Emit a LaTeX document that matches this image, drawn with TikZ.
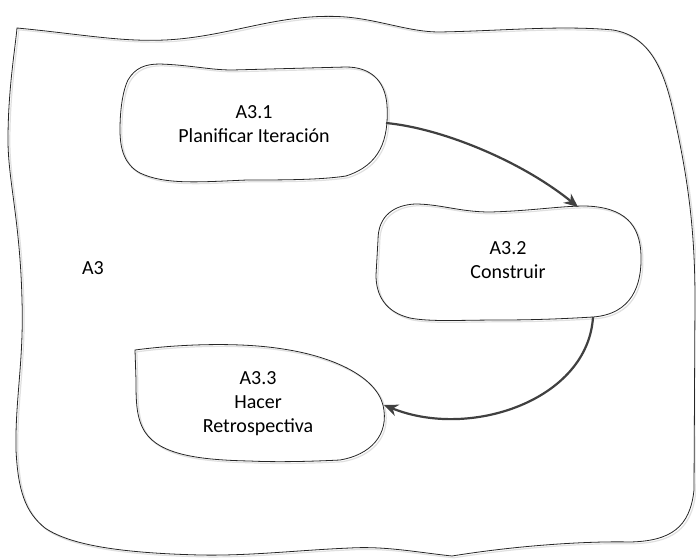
\documentclass[tikz,border=0pt]{standalone}
\usepackage{fontspec}
\setmainfont{Carlito}
\usetikzlibrary{arrows.meta}
\begin{document}
\begin{tikzpicture}[x=1pt,y=-1pt,
  blob/.style={draw=black!85,line width=0.8pt},
  ghost/.style={draw=black!12,line width=1.2pt,shift={(1.8pt,-1.8pt)}},
  lbl/.style={font=\fontsize{20}{24}\selectfont,align=center,text=black},
  flow/.style={draw=black!75,line width=2.2pt,-{Stealth[length=14pt,width=12pt]}}]
\useasboundingbox (0,0) rectangle (696,558);
\fill[white] (0,0) rectangle (696,558);

% outer region
\foreach \s in {ghost,blob}{
\draw[\s] (17,28) .. controls (80,34) and (120,42) .. (165,40)
  .. controls (230,37) and (280,12) .. (346,17)
  .. controls (380,20) and (410,32) .. (439,32)
  .. controls (500,31) and (560,25) .. (613,30)
  .. controls (650,36) and (665,70) .. (675,120)
  .. controls (688,180) and (695,230) .. (695,300)
  -- (694,490)
  .. controls (690,528) and (670,541) .. (630,542)
  .. controls (590,541) and (520,545) .. (452,556)
  .. controls (415,552) and (385,546) .. (350,548)
  .. controls (300,550) and (250,556) .. (200,555)
  .. controls (120,553) and (70,545) .. (45,528)
  .. controls (25,512) and (18,490) .. (16,450)
  .. controls (15,400) and (24,360) .. (22,300)
  .. controls (20,220) and (8,180) .. (8,140)
  .. controls (8,90) and (15,50) .. (17,28) -- cycle;
}

% A3.1
\foreach \s in {ghost,blob}{
\draw[\s] (128,80) .. controls (135,68) and (145,64) .. (160,64)
  .. controls (190,65) and (210,70) .. (232,70) -- (346,67)
  .. controls (370,67) and (385,80) .. (387,105)
  .. controls (389,140) and (380,165) .. (346,176)
  .. controls (320,180) and (280,180) .. (247,180)
  .. controls (200,182) and (165,185) .. (140,173)
  .. controls (125,165) and (120,150) .. (120,130)
  .. controls (120,105) and (124,88) .. (128,80) -- cycle;
}

% A3.2
\foreach \s in {ghost,blob}{
\draw[\s] (378,240) .. controls (378,215) and (395,205) .. (415,204)
  .. controls (440,204) and (460,212) .. (490,212)
  .. controls (530,211) and (560,206) .. (585,206)
  .. controls (625,207) and (640,225) .. (641,255)
  .. controls (642,285) and (632,314) .. (593,317)
  .. controls (560,319) and (530,320) .. (500,320)
  .. controls (460,320) and (430,322) .. (410,318)
  .. controls (385,312) and (376,295) .. (376,275) -- cycle;
}

% A3.3
\foreach \s in {ghost,blob}{
\draw[\s] (135,350) .. controls (180,344) and (240,342) .. (283,349)
  .. controls (330,356) and (375,375) .. (383,405)
  .. controls (390,435) and (370,455) .. (340,460)
  .. controls (300,462) and (270,462) .. (250,461)
  .. controls (200,460) and (160,455) .. (145,432)
  .. controls (136,418) and (136,400) .. (136,380) -- cycle;
}

\node[lbl] (a3) at (93,268) {A3};
\node[lbl] (n1) at (254,124) {A3.1\\Planificar Iteración};
\node[lbl] (n2) at (508,260) {A3.2\\Construir};
\node[lbl] (n3) at (258,404) {A3.3\\Hacer\\Retrospectiva};

\coordinate (n1out) at (386,123);
\coordinate (n2in)  at (578,207);
\coordinate (n2out) at (593,317);
\coordinate (n3in)  at (384,405);

\draw[flow] (n1out) .. controls (440,128) and (520,160) .. (n2in);
\draw[flow] (n2out) .. controls (588,400) and (470,440) .. (n3in);
\end{tikzpicture}
\end{document}
